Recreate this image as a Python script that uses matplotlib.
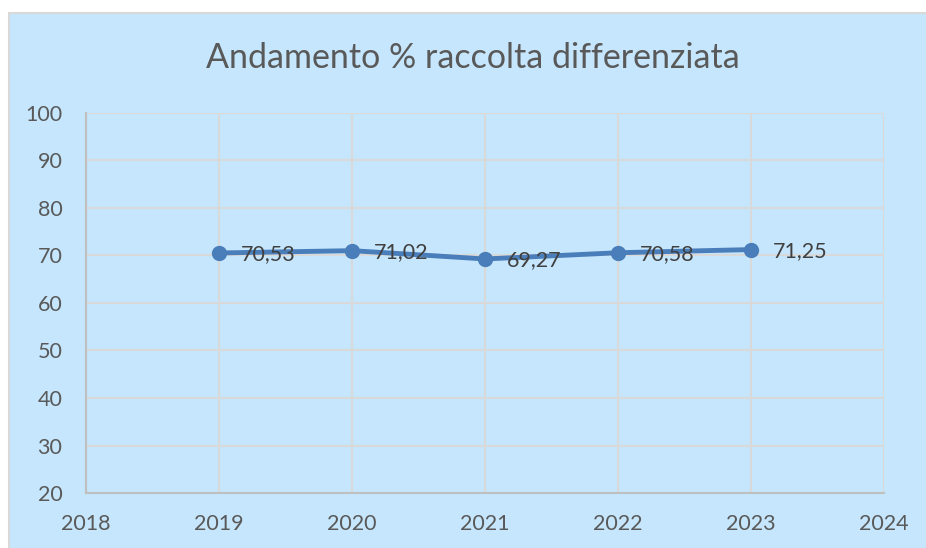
import matplotlib.pyplot as plt
from matplotlib.patches import Rectangle

anni = [2019, 2020, 2021, 2022, 2023]
percentuali = [70.53, 71.02, 69.27, 70.58, 71.25]
etichette = ["70,53", "71,02", "69,27", "70,58", "71,25"]
x_ticks = [2018, 2019, 2020, 2021, 2022, 2023, 2024]
y_ticks = [20, 30, 40, 50, 60, 70, 80, 90, 100]

bg = "#C5E6FC"
txt = "#595959"
plt.rcParams['font.family'] = ['Lato', 'DejaVu Sans']

W, H = 926, 548
fig = plt.figure(figsize=(W / 100, H / 100), dpi=100)
fig.patch.set_facecolor("white")
# chart area box (behind the axes), runs off the right and bottom edges
fig.patches.append(Rectangle((9 / W, -0.05), 1.1, 1.05 - 13 / H, transform=fig.transFigure,
                             facecolor=bg, edgecolor="#D9D9D9", linewidth=1.5, zorder=-10))

ax = fig.add_axes([86 / W, 1 - 493 / H, (884 - 86) / W, (493 - 113) / H])
ax.set_facecolor(bg)
ax.set_xlim(2018, 2024)
ax.set_ylim(20, 100)
ax.set_xticks(x_ticks)
ax.set_yticks(y_ticks)
ax.grid(color="#D9D9D9", linewidth=1.5)
ax.set_axisbelow(True)
for s in ["top", "right"]:
    ax.spines[s].set_visible(False)
for s in ["left", "bottom"]:
    ax.spines[s].set_color("#BFBFBF")
    ax.spines[s].set_linewidth(1.5)
ax.tick_params(length=0, labelsize=15.5, labelcolor=txt)
ax.tick_params(axis="x", pad=15)
ax.tick_params(axis="y", pad=17)

ax.plot(anni, percentuali, color="#4A7EBB", linewidth=3.5, marker="o",
        markersize=10, solid_capstyle="round", zorder=3)
for x, y, t in zip(anni, percentuali, etichette):
    ax.annotate(t, (x, y), xytext=(16, -1), textcoords="offset points",
                ha="left", va="center", fontsize=15.5, color="#404040")

fig.text(473 / W, 1 - 58 / H, "Andamento % raccolta differenziata",
         ha="center", va="center", fontsize=24.5, color=txt)

fig.savefig("out.png", dpi=100)
